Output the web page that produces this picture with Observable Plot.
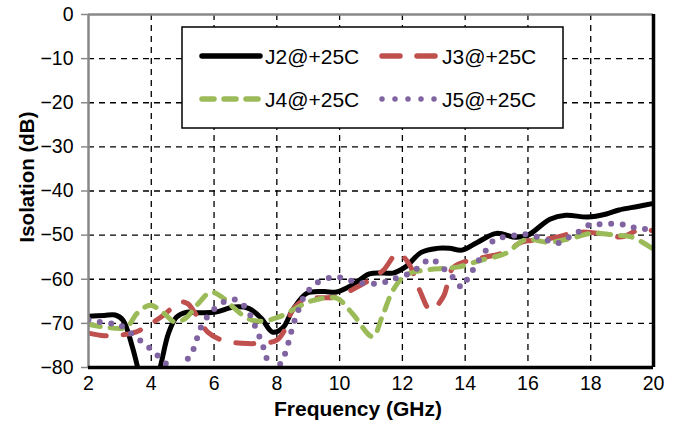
<!DOCTYPE html>
<html>
<head>
<meta charset="utf-8">
<script src="https://cdn.jsdelivr.net/npm/d3@7"></script>
<script src="https://cdn.jsdelivr.net/npm/@observablehq/plot@0.6"></script>
<style>
  html, body { margin: 0; padding: 0; background: white; }
  #chart { position: relative; width: 678px; height: 426px; }
</style>
</head>
<body>
<div id="chart"></div>
<script>
// ---- Data ----
const seriesNames = ["J2@+25C", "J3@+25C", "J4@+25C", "J5@+25C"];

const j2Freq = [2, 2.5, 2.85, 3.1, 3.4, 3.55, 3.93, 4.3, 4.55, 4.8, 5.1, 5.5, 6.0, 6.65, 7.1, 7.5, 7.87, 8.2, 8.5, 8.95, 9.5, 9.9, 10.4, 10.95, 11.4, 11.7, 12.1, 12.6, 13.1, 13.5, 13.9, 14.4, 15.0, 15.6, 16.0, 16.7, 17.2, 17.9, 18.5, 18.9, 19.5, 20];
const j2Iso  = [-68.4, -68.2, -68.1, -69.3, -75.4, -79.5, -90, -79.5, -72.2, -68.6, -67.5, -67.6, -67.5, -66.3, -66.6, -68.8, -72, -70.9, -67, -63.2, -62.8, -62.9, -61.3, -58.8, -58.6, -58.6, -57.2, -53.9, -53, -53, -53.4, -51.6, -49.6, -50.5, -50, -46.4, -45.5, -45.9, -45.2, -44.3, -43.5, -42.8];

const j3Freq = [2, 2.5, 2.95, 3.5, 4.0, 4.4, 4.9, 5.15, 5.4, 5.8, 6.25, 6.9, 7.5, 8.0, 8.25, 8.5, 8.95, 9.4, 9.9, 10.5, 10.95, 11.4, 11.85, 12.2, 12.55, 12.9, 13.3, 13.6, 14.0, 14.5, 15.3, 15.8, 16.4, 16.95, 17.6, 18.25, 19.0, 19.5, 20];
const j3Iso  = [-72.2, -72.8, -72.7, -72, -70, -68.1, -65.2, -65.5, -67.7, -72, -73.8, -74.5, -74.5, -73.8, -71.5, -67, -64.3, -64.2, -64, -62, -60.2, -57.9, -54.1, -56.4, -62.5, -67, -64, -57.5, -56, -55.2, -53.8, -51.6, -51.1, -50.4, -49.3, -49.6, -50.4, -48.9, -49];

const j4Freq = [2, 2.55, 3.2, 3.55, 3.97, 4.4, 4.75, 5.1, 5.5, 5.9, 6.3, 6.65, 7.1, 7.5, 8.05, 8.6, 9.05, 9.9, 10.4, 11.05, 11.35, 11.7, 12.1, 12.75, 13.4, 13.8, 14.5, 15.3, 15.9, 16.7, 17.4, 18.0, 18.8, 19.3, 20];
const j4Iso  = [-70.2, -70.9, -70.9, -67.7, -65.9, -67.7, -69.7, -68.8, -65.5, -62.9, -64.3, -66.6, -69, -69.5, -68.6, -66.6, -65, -64.3, -67.7, -73, -68.6, -62.5, -59.1, -57.9, -57.5, -57.2, -55.7, -54.1, -51.1, -51.6, -50.7, -49.6, -50, -50.4, -53.2];

const j5Freq = [2, 2.3, 2.7, 2.95, 3.3, 3.6, 3.9, 4.2, 4.45, 4.8, 5.2, 5.4, 5.5, 5.65, 5.9, 6.3, 6.75, 7.1, 7.25, 7.4, 7.55, 7.65, 7.85, 8.15, 8.3, 8.4, 8.5, 8.65, 8.9, 9.3, 9.9, 10.3, 10.7, 11.3, 11.7, 12.3, 12.6, 12.9, 13.25, 13.55, 13.9, 14.1, 14.3, 14.5, 14.75, 14.95, 15.3, 15.65, 15.9, 16.3, 16.7, 16.95, 17.3, 17.6, 17.95, 18.35, 18.95, 19.3, 19.7, 20];
const j5Iso  = [-69.2, -69.6, -70, -70.2, -72, -73.6, -75.3, -77.3, -79, -81.5, -77.6, -75, -72.2, -70, -67.5, -65.2, -64.7, -67.5, -69.7, -72.2, -74.9, -77.4, -80.5, -78.8, -76, -73.6, -70.9, -67.7, -63.6, -60.7, -59.5, -60.2, -60.9, -60.9, -60, -58.4, -56.8, -55.4, -57.2, -59.1, -61.8, -59.5, -57.3, -55, -52.7, -50.9, -50.4, -50, -49.8, -50.4, -51.4, -51.8, -50.5, -49.3, -47.7, -47.5, -47.5, -48.2, -48.6, -49];

const xTicks = [2, 4, 6, 8, 10, 12, 14, 16, 18, 20];
const yTicks = [0, -10, -20, -30, -40, -50, -60, -70, -80];
const xTitle = "Frequency (GHz)";
const yTitle = "Isolation (dB)";

// ---- Styles ----
const colors = ["#000000", "#C0504D", "#9BBB59", "#8064A2"];
const widths = [5, 5, 5, 6];
const dashes = [null, "18 17", "12 10", "0 11.5"];

const toRows = (f, v) => f.map((x, i) => ({f: x, v: v[i]}));
const series = [toRows(j2Freq, j2Iso), toRows(j3Freq, j3Iso), toRows(j4Freq, j4Iso), toRows(j5Freq, j5Iso)];

const gridStyle = {stroke: "black", strokeOpacity: 1, strokeWidth: 1.3, strokeDasharray: "6,5"};

const svg = Plot.plot({
  width: 678,
  height: 426,
  marginLeft: 88,
  marginRight: 25,
  marginTop: 14,
  marginBottom: 59,
  style: {fontFamily: "'Liberation Sans', Arial, sans-serif", fontSize: "19.5px", color: "black", background: "white"},
  x: {domain: [2, 20]},
  y: {domain: [-80, 0]},
  marks: [
    Plot.gridX(xTicks.slice(1, -1), gridStyle),
    Plot.gridY(yTicks.slice(1, -1), gridStyle),
    Plot.axisX(xTicks, {tickSize: 0, tickPadding: 9, label: null, fill: "black"}),
    Plot.axisY(yTicks, {tickSize: 7, tickPadding: 8, label: null, stroke: "#888", strokeWidth: 1.5, fill: "black"}),
    ...series.map((rows, i) => Plot.line(rows, {
      x: "f", y: "v",
      stroke: colors[i],
      strokeWidth: widths[i],
      strokeDasharray: dashes[i] ?? undefined,
      strokeLinecap: "round",
      strokeLinejoin: "round",
      curve: "catmull-rom",
      clip: true
    })),
    Plot.ruleY([0], {stroke: "#888", strokeWidth: 2.5}),
    Plot.ruleX([2], {stroke: "#888", strokeWidth: 2.5}),
    Plot.ruleY([-80], {stroke: "black", strokeWidth: 3.5}),
    Plot.ruleX([20], {stroke: "black", strokeWidth: 3.5})
  ]
});

const s = d3.select(svg);

// Axis titles
s.append("text")
  .attr("x", 358).attr("y", 416)
  .attr("text-anchor", "middle")
  .attr("font-weight", "bold")
  .attr("font-size", 21)
  .attr("fill", "black")
  .text(xTitle);
s.append("text")
  .attr("transform", "translate(34,177) rotate(-90)")
  .attr("text-anchor", "middle")
  .attr("font-weight", "bold")
  .attr("font-size", 20.5)
  .attr("fill", "black")
  .text(yTitle);

// Legend
const lg = s.append("g").attr("text-anchor", "start");
lg.append("rect")
  .attr("x", 182).attr("y", 27).attr("width", 381).attr("height", 101)
  .attr("fill", "white").attr("stroke", "black").attr("stroke-width", 1.5);
const cols = [202, 382];
const rowsY = [56, 99];
seriesNames.forEach((name, i) => {
  const x0 = cols[i % 2], y0 = rowsY[Math.floor(i / 2)];
  const len = i % 2 === 0 ? 58 : 55;
  lg.append("line")
    .attr("x1", x0).attr("x2", x0 + len).attr("y1", y0).attr("y2", y0)
    .attr("stroke", colors[i]).attr("stroke-width", 5.5)
    .attr("stroke-linecap", "round")
    .attr("stroke-dasharray", i === 3 ? "0 13" : dashes[i]);
  lg.append("text")
    .attr("x", x0 + len + 5).attr("y", y0).attr("dy", "0.36em")
    .attr("text-anchor", "start")
    .attr("font-size", 21).attr("fill", "black")
    .text(name);
});

document.getElementById("chart").appendChild(svg);
</script>
</body>
</html>
